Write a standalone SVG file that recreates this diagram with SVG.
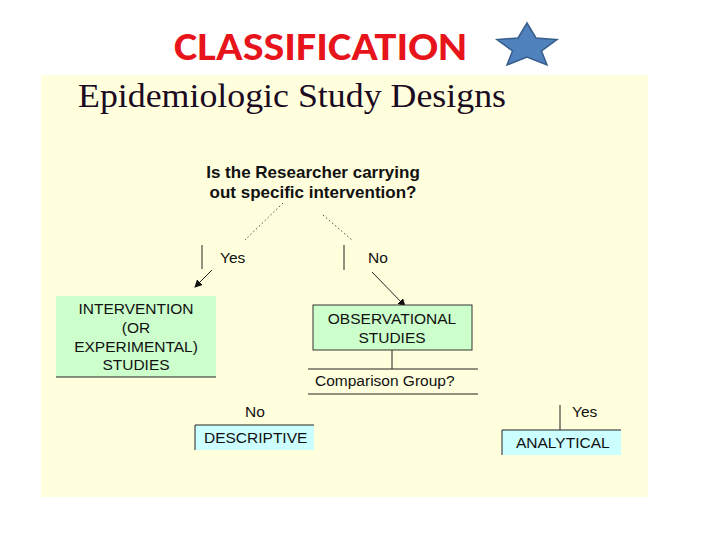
<svg xmlns="http://www.w3.org/2000/svg" width="720" height="540" viewBox="0 0 720 540">
<style>
.t{font-family:"Liberation Sans",Arial,sans-serif;font-size:15.5px;fill:#111}
.q{font-family:"Liberation Sans",Arial,sans-serif;font-size:17px;font-weight:bold;fill:#111}
.ln{stroke:#222;stroke-width:1;fill:none}
.dot{stroke:#444;stroke-width:1;stroke-dasharray:1.5 2.5;fill:none}
.green{fill:#CCFFCC}
.cyan{fill:#CCFFFF}
</style>
<defs>
<marker id="ah" markerWidth="8" markerHeight="8" refX="7" refY="4" orient="auto" markerUnits="userSpaceOnUse">
<path d="M0,0 L8,4 L0,8 z" fill="#111"/>
</marker>
</defs>
<rect width="720" height="540" fill="#fff"/>
<rect x="41" y="75" width="607" height="422" fill="#FFFFDD"/>
<g id="title">
<text x="174" y="60" font-family="Carlito,'Liberation Sans',Arial,sans-serif" font-weight="bold" font-size="40" fill="#E8141B" textLength="293" lengthAdjust="spacingAndGlyphs">CLASSIFICATION</text>
</g>
<g id="star">
<polygon points="527,23 536,38 557,39.5 541.5,51 547,65 527,57 507,65 512.5,51 497,39.5 518,38" fill="#4F81BD" stroke="#385D8A" stroke-width="1.5"/>
</g>
<g id="heading">
<text x="78" y="107" font-family="'Liberation Serif','Times New Roman',serif" font-size="34" fill="#1A0A22" textLength="428" lengthAdjust="spacingAndGlyphs">Epidemiologic Study Designs</text>
</g>
<g id="question">
<text class="q" x="313" y="178" text-anchor="middle">Is the Researcher carrying</text>
<text class="q" x="313" y="198" text-anchor="middle">out specific intervention?</text>
</g>
<g id="connectors">
<line class="dot" x1="283" y1="203" x2="245" y2="240"/>
<line class="dot" x1="323" y1="215" x2="352" y2="240"/>
<line class="ln" x1="202" y1="245" x2="202" y2="269"/>
<line class="ln" x1="344" y1="245" x2="344" y2="270"/>
<line class="ln" x1="212" y1="270" x2="195" y2="287" marker-end="url(#ah)"/>
<line class="ln" x1="372" y1="272" x2="405" y2="306" marker-end="url(#ah)"/>
<line class="ln" x1="392" y1="350" x2="392" y2="369"/>
<line class="ln" x1="308" y1="369" x2="478" y2="369"/>
<line class="ln" x1="308" y1="394" x2="478" y2="394"/>
<line class="ln" x1="560" y1="405" x2="560" y2="430"/>
</g>
<g id="label-yes1"><text class="t" x="220" y="263">Yes</text></g>
<g id="label-no1"><text class="t" x="368" y="263">No</text></g>
<g id="intervention">
<rect class="green" x="56" y="296" width="160" height="81"/>
<line class="ln" x1="56" y1="377" x2="216" y2="377"/>
<text class="t" x="136" y="314" text-anchor="middle">INTERVENTION</text>
<text class="t" x="136" y="333" text-anchor="middle">(OR</text>
<text class="t" x="136" y="352" text-anchor="middle">EXPERIMENTAL)</text>
<text class="t" x="136" y="370" text-anchor="middle">STUDIES</text>
</g>
<g id="observational">
<rect class="green" x="313" y="305" width="159" height="45" stroke="#333" stroke-width="1"/>
<text class="t" x="392" y="324" text-anchor="middle">OBSERVATIONAL</text>
<text class="t" x="392" y="343" text-anchor="middle">STUDIES</text>
</g>
<g id="comparison">
<text class="t" x="315" y="386">Comparison Group?</text>
</g>
<g id="label-no2"><text class="t" x="245" y="417">No</text></g>
<g id="descriptive">
<rect class="cyan" x="195" y="425" width="119" height="25"/>
<path class="ln" d="M195,450 V425 H314"/>
<text class="t" x="204" y="443">DESCRIPTIVE</text>
</g>
<g id="label-yes2"><text class="t" x="572" y="417">Yes</text></g>
<g id="analytical">
<rect class="cyan" x="502" y="430" width="119" height="25"/>
<path class="ln" d="M502,455 V430 H621"/>
<text class="t" x="516" y="448">ANALYTICAL</text>
</g>
</svg>
